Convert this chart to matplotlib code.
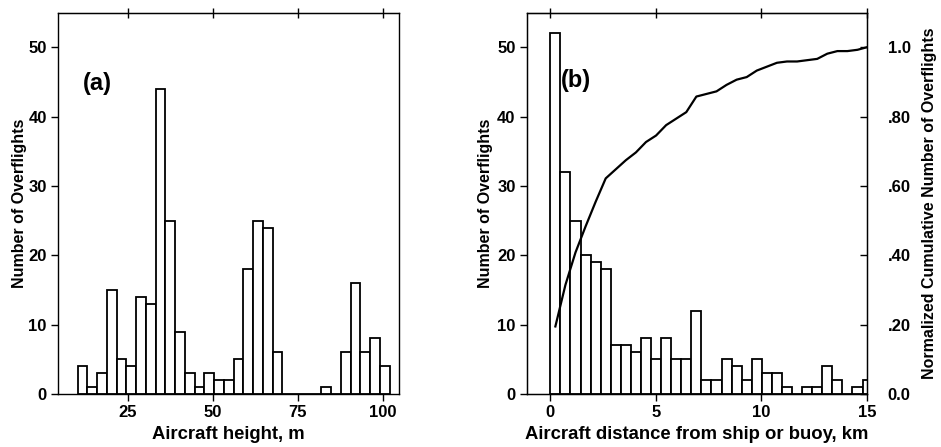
import matplotlib

matplotlib.use("Agg")

import matplotlib.pyplot as plt
import numpy as np

plt.rcParams["font.family"] = ["Liberation Sans", "DejaVu Sans"]

# (a) aircraft height histogram, 32 bins
height_bin_start = 10.25
height_bin_width = 2.87
height_counts = [4, 1, 3, 15, 5, 4, 14, 13, 44, 25, 9, 3, 1, 3, 2, 2,
                 5, 18, 25, 24, 6, 0, 0, 0, 0, 1, 0, 6, 16, 6, 8, 4]

# (b) distance from ship or buoy histogram, 32 bins
dist_bin_start = 0.0
dist_bin_width = 0.477
dist_counts = [52, 32, 25, 20, 19, 18, 7, 7, 6, 8, 5, 8, 5, 5, 12, 2,
               2, 5, 4, 2, 5, 3, 3, 1, 0, 1, 1, 4, 2, 0, 1, 2]

height_ticks = [25, 50, 75, 100]
dist_ticks = [0, 5, 10, 15]
count_ticks = [0, 10, 20, 30, 40, 50]
cum_ticks = [0.0, 0.2, 0.4, 0.6, 0.8, 1.0]
cum_ticklabels = ["0.0", ".20", ".40", ".60", ".80", "1.0"]

TICK_FS = 12
XLABEL_FS = 13.3
YLABEL_FS = 11.5
PANEL_FS = 17
LW = 1.3


def style_axes(ax, xticks):
    for sp in ax.spines.values():
        sp.set_linewidth(1.0)
    ax.tick_params(axis="both", which="major", direction="out", length=5,
                   width=1.0, labelsize=TICK_FS, pad=3)
    for lab in ax.get_xticklabels() + ax.get_yticklabels():
        lab.set_fontweight("bold")
    top = ax.secondary_xaxis("top")
    top.set_xticks(xticks)
    top.tick_params(direction="inout", length=7, width=1.0, labeltop=False)


def draw_hist(ax, start, width, counts):
    n = len(counts)
    lefts = start + width * np.arange(n)
    ax.bar(lefts, counts, width=width, align="edge", color="white",
           edgecolor="black", linewidth=LW, zorder=2)
    return lefts


fig = plt.figure(figsize=(9.41, 4.47), dpi=100, facecolor="white")
ax1 = fig.add_axes([0.0616, 0.1186, 0.3624, 0.8534])
ax2 = fig.add_axes([0.5597, 0.1186, 0.3617, 0.8534])

# panel (a)
draw_hist(ax1, height_bin_start, height_bin_width, height_counts)
ax1.set_xlim(4.5, 104.8)
ax1.set_ylim(0, 55)
ax1.set_xticks(height_ticks)
ax1.set_yticks(count_ticks)
style_axes(ax1, height_ticks)
ax1.set_xlabel("Aircraft height, m", fontsize=XLABEL_FS, fontweight="bold", labelpad=4)
ax1.set_ylabel("Number of Overflights", fontsize=YLABEL_FS, fontweight="bold", labelpad=1)
ax1.text(11.9, 44.8, "(a)", fontsize=PANEL_FS, fontweight="bold", ha="left", va="center")

# panel (b)
lefts = draw_hist(ax2, dist_bin_start, dist_bin_width, dist_counts)
ax2.set_xlim(-1.12, 15)
ax2.set_ylim(0, 55)
ax2.set_xticks(dist_ticks)
ax2.set_yticks(count_ticks)
style_axes(ax2, dist_ticks)
ax2.set_xlabel("Aircraft distance from ship or buoy, km", fontsize=XLABEL_FS,
               fontweight="bold", labelpad=4)
ax2.set_ylabel("Number of Overflights", fontsize=YLABEL_FS, fontweight="bold", labelpad=3)
ax2.text(0.5, 45.2, "(b)", fontsize=PANEL_FS, fontweight="bold", ha="left", va="center")

# normalized cumulative curve on the right axis
counts = np.array(dist_counts)
cum = np.cumsum(counts) / counts.sum()
centers = np.minimum(lefts + dist_bin_width / 2, 15)
ax3 = ax2.twinx()
ax3.plot(centers, cum, color="black", linewidth=1.6, zorder=3)
ax3.set_ylim(0, 1.1)
ax3.set_yticks(cum_ticks)
ax3.set_yticklabels(cum_ticklabels)
ax3.tick_params(axis="y", direction="in", length=5, width=1.0, labelsize=TICK_FS, pad=15)
for lab in ax3.get_yticklabels():
    lab.set_fontweight("bold")
ax3.set_ylabel("Normalized Cumulative Number of Overflights", fontsize=YLABEL_FS,
               fontweight="bold", labelpad=8)

fig.savefig("out.png", dpi=100, facecolor="white")
